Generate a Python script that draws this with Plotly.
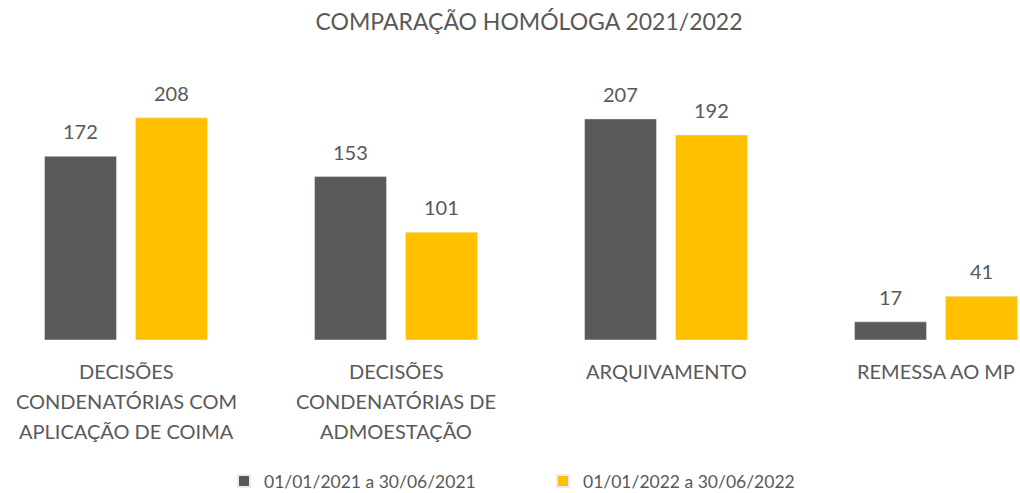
import plotly.graph_objects as go

categories = [
    ["DECISÕES", "CONDENATÓRIAS COM", "APLICAÇÃO DE COIMA"],
    ["DECISÕES", "CONDENATÓRIAS DE", "ADMOESTAÇÃO"],
    ["ARQUIVAMENTO"],
    ["REMESSA AO MP"],
]
series_names = ["01/01/2021 a 30/06/2021", "01/01/2022 a 30/06/2022"]
values_2021 = [172, 153, 207, 17]
values_2022 = [208, 101, 192, 41]
colors = ["#595959", "#FFC000"]
title_text = "COMPARAÇÃO HOMÓLOGA 2021/2022"

FONT = "Lato"
TXT = "#595959"
xpos = list(range(len(categories)))

BARGAP = 0.326
GROUPGAP = 0.209
slot = (1 - BARGAP) / 2  # width of each series slot in x units

fig = go.Figure()
annotations = []
for k, (name, vals, col) in enumerate(zip(series_names, [values_2021, values_2022], colors)):
    fig.add_trace(go.Bar(
        x=xpos, y=vals, name=name, marker_color=col, hoverinfo="skip",
    ))
    off = (k - 0.5) * slot
    for i, v in zip(xpos, vals):
        annotations.append(dict(
            x=i + off, xref="x", y=v, yref="y", yanchor="bottom",
            yshift=11, text=str(v), showarrow=False,
            font=dict(family=FONT, size=20, color=TXT),
        ))

for i, lines in enumerate(categories):
    for j, line in enumerate(lines):
        annotations.append(dict(
            x=i, xref="x", y=0, yref="paper", yanchor="middle",
            yshift=-31 - 30 * j, text=line, showarrow=False,
            font=dict(family=FONT, size=20, color=TXT),
        ))

fig.update_layout(
    width=1020, height=493,
    margin=dict(l=0, r=0, t=73, b=153),
    paper_bgcolor="white", plot_bgcolor="white",
    barmode="group", bargap=BARGAP, bargroupgap=GROUPGAP,
    title=dict(text=title_text, x=529 / 1020, xanchor="center",
               y=1 - 22 / 493, yanchor="middle",
               font=dict(family=FONT, size=23, color=TXT)),
    xaxis=dict(range=[-0.4667, 3.311], showticklabels=False, showgrid=False,
               zeroline=False, showline=False, ticks=""),
    yaxis=dict(range=[0, 250], visible=False),
    showlegend=True,
    legend=dict(orientation="h", xref="container", yref="container",
                x=224 / 1020, xanchor="left", y=1 - 481 / 493, yanchor="middle",
                font=dict(family=FONT, size=17.5, color=TXT),
                entrywidth=274, entrywidthmode="pixels",
                itemsizing="constant"),
    annotations=annotations,
)

fig.write_html("out.html", config={"displayModeBar": False},
               post_script="document.body.style.margin='0';")
